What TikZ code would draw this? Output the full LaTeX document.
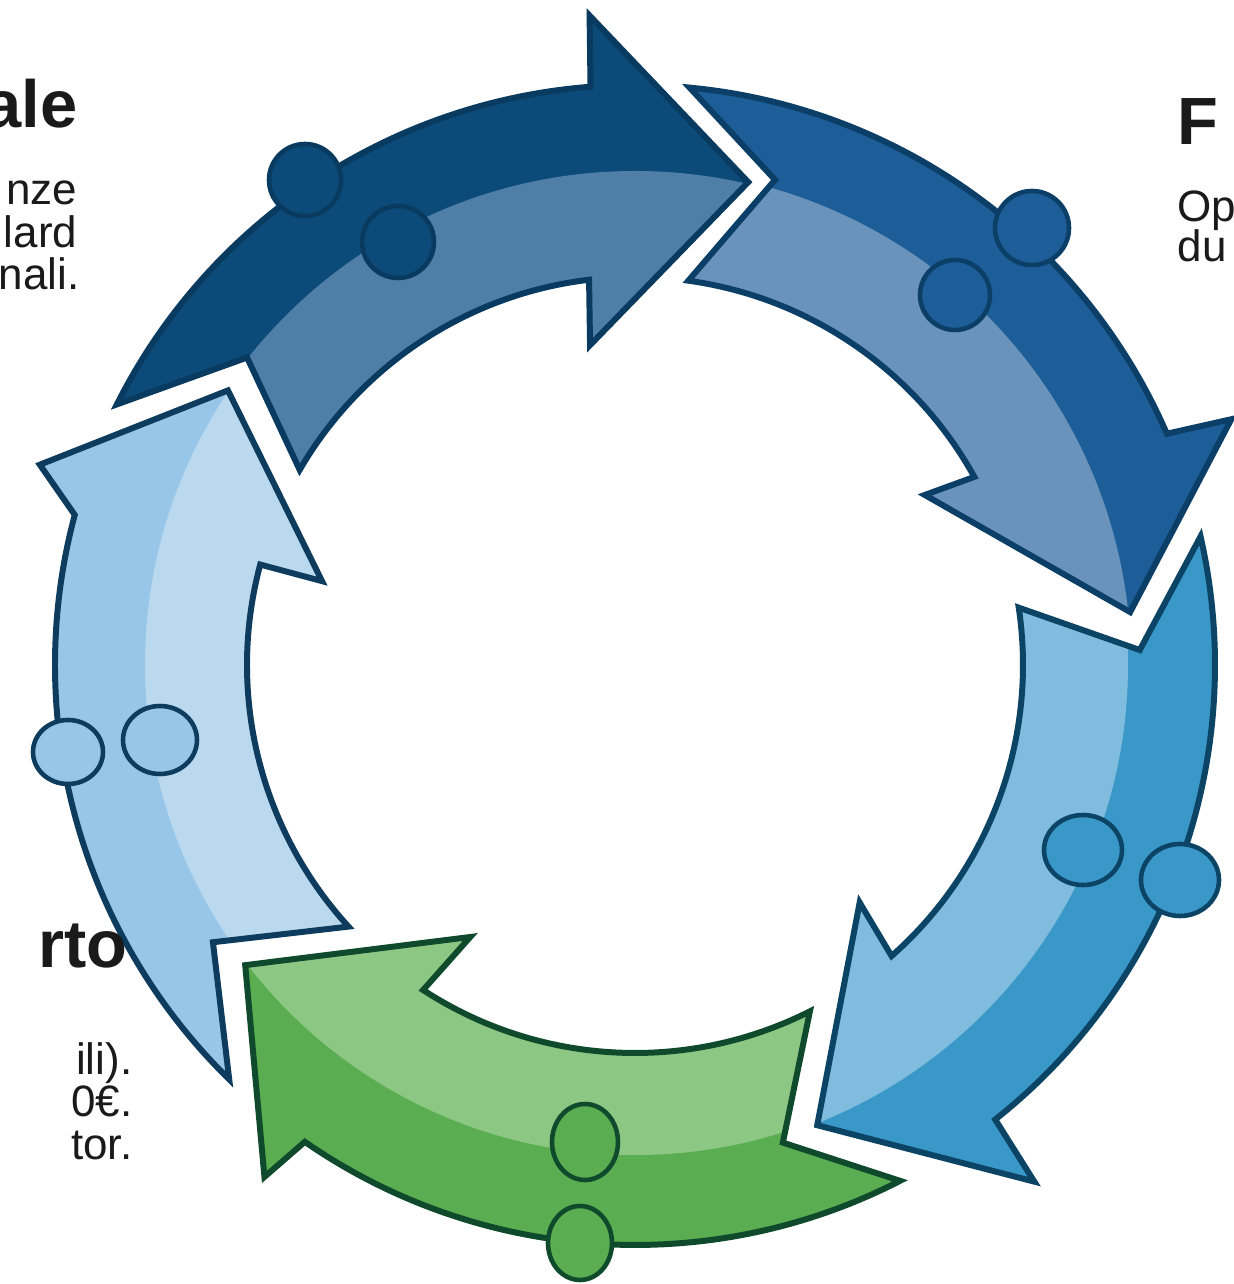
\documentclass[tikz,border=0pt]{standalone}
\usepackage{fontspec}
\setmainfont{Liberation Sans}
\definecolor{aAo}{HTML}{0C4A79}\definecolor{aAi}{HTML}{4F7FA7}\definecolor{aAl}{HTML}{093A5F}
\definecolor{aBo}{HTML}{1D5E98}\definecolor{aBi}{HTML}{6A93BC}\definecolor{aBl}{HTML}{0C3F68}
\definecolor{aCo}{HTML}{3A98C9}\definecolor{aCi}{HTML}{80BCDD}\definecolor{aCl}{HTML}{0C4466}
\definecolor{aDo}{HTML}{5AAE51}\definecolor{aDi}{HTML}{8DC784}\definecolor{aDl}{HTML}{0F4A2C}
\definecolor{aEo}{HTML}{98C6E8}\definecolor{aEi}{HTML}{BAD9EF}\definecolor{aEl}{HTML}{0E3C5E}
\definecolor{txt}{HTML}{1A1A1A}
\begin{document}
\begin{tikzpicture}[x=0.01cm,y=0.01cm]
\tikzset{
  outl/.style={line width=1.7pt, line join=miter, miter limit=12},
  dotc/.style={line width=1.3pt},
  ttl/.style={font=\bfseries\fontsize{19}{21}\selectfont, text=txt, inner sep=0pt},
  bdy/.style={font=\fontsize{12.5}{14}\selectfont, text=txt, inner sep=0pt},
}
\useasboundingbox (0,0) rectangle (1234,1284);
\clip (0,0) rectangle (1234,1284);
\fill[white] (0,0) rectangle (1234,1284);

\begin{scope}[shift={(635,619)}]
% arrow 1 (navy, top)
\path[save path=\pA] (153.3:580) arc[start angle=153.3,end angle=94.4,radius=580]
  -- (94:651) -- (76.8:496) -- (98:323) -- (96.8:388)
  arc[start angle=96.8,end angle=149.8,radius=388] -- (141.6:495) -- cycle;
% arrow 2 (blue, right top)
\path[save path=\pB] (84.6:580) arc[start angle=84.6,end angle=23.5,radius=580]
  -- (22.4:645) -- (6.1:498) -- (30.4:336) -- (29:388)
  arc[start angle=29,end angle=82.1,radius=388] -- (73.9:505) -- cycle;
% arrow 3 (mid blue, right bottom)
\path[save path=\pC] (12.8:580) arc[start angle=12.8,end angle=-51.6,radius=580]
  -- (-52.3:653) -- (-68.4:495) -- (-46.6:327) -- (-48.6:388)
  arc[start angle=-48.6,end angle=8.5,radius=388] -- (1.7:505) -- cycle;
% arrow 4 (green, bottom)
\path[save path=\pD] (-62.8:580) arc[start angle=-62.8,end angle=-124.7,radius=580]
  -- (-125.9:632) -- (-142.4:492) -- (-121.2:318) -- (-123.1:388)
  arc[start angle=-123.1,end angle=-63.2,radius=388] -- (-72.8:500) -- cycle;
% arrow 5 (light blue, left)
\path[save path=\pE] (225.6:580) arc[start angle=225.6,end angle=165,radius=580]
  -- (161.4:628) -- (146:491) -- (165:324) -- (165:388)
  arc[start angle=165,end angle=222.4,radius=388] -- (213.3:505) -- cycle;

\fill[aAo, use path=\pA];
\begin{scope}\path[clip, use path=\pA]; \fill[aAi] (0,0) circle[radius=494]; \end{scope}
\draw[aAl, outl, use path=\pA];

\fill[aBo, use path=\pB];
\begin{scope}\path[clip, use path=\pB]; \fill[aBi] (0,0) circle[radius=496]; \end{scope}
\draw[aBl, outl, use path=\pB];

\fill[aCo, use path=\pC];
\begin{scope}\path[clip, use path=\pC]; \fill[aCi] (0,0) circle[radius=493]; \end{scope}
\draw[aCl, outl, use path=\pC];

\fill[aDo, use path=\pD];
\begin{scope}\path[clip, use path=\pD]; \fill[aDi] (0,0) circle[radius=490]; \end{scope}
\draw[aDl, outl, use path=\pD];

\fill[aEo, use path=\pE];
\begin{scope}\path[clip, use path=\pE]; \fill[aEi] (0,0) circle[radius=490]; \end{scope}
\draw[aEl, outl, use path=\pE];
\end{scope}

% decorative circles
\draw[dotc, fill=aAo, draw=aAl] (305,1104) circle[radius=36];
\draw[dotc, fill=aAo, draw=aAl] (398,1042) circle[radius=36];
\draw[dotc, fill=aBo, draw=aBl] (1032,1056) circle[radius=37];
\draw[dotc, fill=aBo, draw=aBl] (955,989) circle[radius=35];
\draw[dotc, fill=aCo, draw=aCl] (1083,434) ellipse[x radius=39, y radius=35];
\draw[dotc, fill=aCo, draw=aCl] (1180,404) ellipse[x radius=39, y radius=36];
\draw[dotc, fill=aDo, draw=aDl] (585,142) ellipse[x radius=33, y radius=38];
\draw[dotc, fill=aDo, draw=aDl] (580,41) ellipse[x radius=32, y radius=37];
\draw[dotc, fill=aEo, draw=aEl] (160,544) ellipse[x radius=37, y radius=34];
\draw[dotc, fill=aEo, draw=aEl] (68,532) ellipse[x radius=35, y radius=32];

% cropped texts
\node[ttl, anchor=base east] (t1) at (78,1156) {ale};
\node[bdy, anchor=base east] (b1a) at (78,1079) {nze};
\node[bdy, anchor=base east] (b1b) at (78,1036) {lard};
\node[bdy, anchor=base east] (b1c) at (80,994) {nali.};
\node[ttl, anchor=base west] (t2) at (1177,1139) {F};
\node[bdy, anchor=base west] (b2a) at (1177,1062) {Op};
\node[bdy, anchor=base west] (b2b) at (1177,1022) {du};
\node[ttl, anchor=base east] (t3) at (128,316) {rto};
\node[bdy, anchor=base east] (b3a) at (133,209) {ili).};
\node[bdy, anchor=base east] (b3b) at (133,167) {0€.};
\node[bdy, anchor=base east] (b3c) at (133,124) {tor.};
\end{tikzpicture}
\end{document}
